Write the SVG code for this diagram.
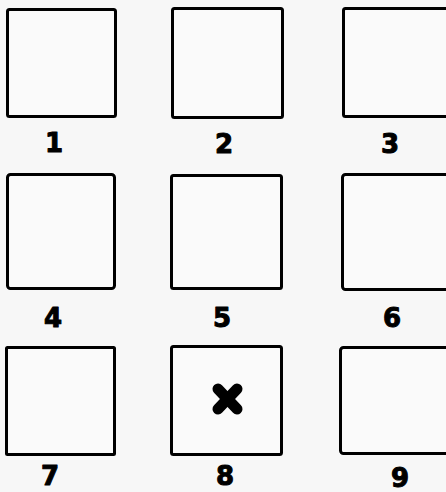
<svg xmlns="http://www.w3.org/2000/svg" width="446" height="492" viewBox="0 0 446 492">
<style>
.box{fill:#fafafa;stroke:#000;stroke-width:3;}
.lbl{font-family:"DejaVu Sans","Liberation Sans",sans-serif;font-weight:bold;font-size:26px;fill:#000;stroke:#000;stroke-width:1;stroke-linejoin:round;text-anchor:middle;}
.x{stroke:#000;stroke-width:11;stroke-linecap:round;}
</style>
<rect width="446" height="492" fill="#f7f7f7"/>
<g id="n1"><rect class="box" x="7.5" y="9.5" width="108" height="107" rx="2"/><text class="lbl" x="54" y="152">1</text></g>
<g id="n2"><rect class="box" x="172.5" y="8.5" width="110" height="109" rx="2"/><text class="lbl" x="224" y="153">2</text></g>
<g id="n3"><rect class="box" x="343.5" y="8.5" width="110" height="108" rx="2"/><text class="lbl" x="390" y="153">3</text></g>
<g id="n4"><rect class="box" x="7.5" y="174.5" width="107" height="114" rx="3"/><text class="lbl" x="53" y="327">4</text></g>
<g id="n5"><rect class="box" x="171.5" y="175.5" width="110" height="113" rx="2"/><text class="lbl" x="222" y="327">5</text></g>
<g id="n6"><rect class="box" x="342.5" y="174.5" width="110" height="115" rx="3"/><text class="lbl" x="392" y="327">6</text></g>
<g id="n7"><rect class="box" x="6.5" y="347.5" width="108" height="107" rx="1"/><text class="lbl" x="50" y="485">7</text></g>
<g id="n8"><rect class="box" x="171.5" y="346.5" width="110" height="108" rx="2"/><text class="lbl" x="225" y="485">8</text>
<line class="x" x1="218" y1="389" x2="237" y2="409"/><line class="x" x1="237" y1="389" x2="218" y2="409"/></g>
<g id="n9"><rect class="box" x="340.5" y="347.5" width="112" height="106" rx="3"/><text class="lbl" x="400" y="487">9</text></g>
<g id="connectors"></g>
</svg>
